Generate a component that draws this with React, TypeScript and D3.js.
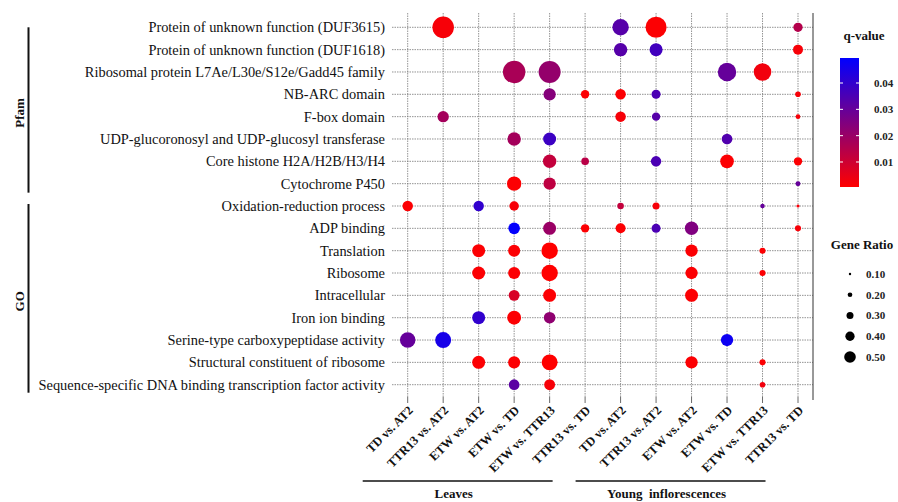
import * as React from "react";
import * as d3 from "d3";

const terms = [
  "Protein of unknown function (DUF3615)",
  "Protein of unknown function (DUF1618)",
  "Ribosomal protein L7Ae/L30e/S12e/Gadd45 family",
  "NB-ARC domain",
  "F-box domain",
  "UDP-glucoronosyl and UDP-glucosyl transferase",
  "Core histone H2A/H2B/H3/H4",
  "Cytochrome P450",
  "Oxidation-reduction process",
  "ADP binding",
  "Translation",
  "Ribosome",
  "Intracellular",
  "Iron ion binding",
  "Serine-type carboxypeptidase activity",
  "Structural constituent of ribosome",
  "Sequence-specific DNA binding transcription factor activity",
];

const comparisons = [
  "TD vs. AT2", "TTR13 vs. AT2", "ETW vs. AT2", "ETW vs. TD", "ETW vs. TTR13", "TTR13 vs. TD",
  "TD vs. AT2", "TTR13 vs. AT2", "ETW vs. AT2", "ETW vs. TD", "ETW vs. TTR13", "TTR13 vs. TD",
];

// [label, first term index, last term index]
const termGroups: [string, number, number][] = [
  ["Pfam", 0, 7],
  ["GO", 8, 16],
];

// [label, first column, last column]
const tissueGroups: [string, number, number][] = [
  ["Leaves", 0, 4],
  ["Young  inflorescences", 6, 10],
];

const _ = null;

// gene ratio per term (row) and comparison (column)
const geneRatio: (number | null)[][] = [
  [_, 0.93, _, _, _, _, 0.71, 0.91, _, _, _, 0.40],
  [_, _, _, _, _, _, 0.58, 0.56, _, _, _, 0.43],
  [_, _, _, 0.97, 0.95, _, _, _, _, 0.80, 0.76, _],
  [_, _, _, _, 0.53, 0.36, 0.45, 0.39, _, _, _, 0.24],
  [_, 0.49, _, _, _, _, 0.45, 0.36, _, _, _, 0.20],
  [_, _, _, 0.58, 0.56, _, _, _, _, 0.46, _, _],
  [_, _, _, _, 0.58, 0.33, _, 0.45, _, 0.59, _, 0.36],
  [_, _, _, 0.62, 0.53, _, _, _, _, _, _, 0.21],
  [0.45, _, 0.45, 0.41, _, _, 0.28, 0.30, _, _, 0.19, 0.13],
  [_, _, _, 0.50, 0.56, 0.36, 0.43, 0.39, 0.58, _, _, 0.26],
  [_, _, 0.56, 0.52, 0.71, _, _, _, 0.53, _, 0.26, _],
  [_, _, 0.56, 0.52, 0.71, _, _, _, 0.53, _, 0.26, _],
  [_, _, _, 0.47, 0.56, _, _, _, 0.56, _, _, _],
  [_, _, 0.56, 0.60, 0.50, _, _, _, _, _, _, _],
  [0.67, 0.69, _, _, _, _, _, _, _, 0.53, _, _],
  [_, _, 0.56, 0.52, 0.69, _, _, _, 0.53, _, 0.26, _],
  [_, _, _, 0.46, 0.47, _, _, _, _, _, 0.24, _],
];

// q-value per term (row) and comparison (column)
const qValue: (number | null)[][] = [
  [_, 0.002, _, _, _, _, 0.033, 0.001, _, _, _, 0.015],
  [_, _, _, _, _, _, 0.033, 0.037, _, _, _, 0.002],
  [_, _, _, 0.017, 0.021, _, _, _, _, 0.030, 0.003, _],
  [_, _, _, _, 0.024, 0.001, 0.001, 0.035, _, _, _, 0.002],
  [_, 0.018, _, _, _, _, 0.002, 0.033, _, _, _, 0.002],
  [_, _, _, 0.018, 0.038, _, _, _, _, 0.034, _, _],
  [_, _, _, _, 0.012, 0.014, _, 0.035, _, 0.001, _, 0.001],
  [_, _, _, 0.001, 0.013, _, _, _, _, _, _, 0.030],
  [0.001, _, 0.040, 0.002, _, _, 0.012, 0.002, _, _, 0.030, 0.002],
  [_, _, _, 0.049, 0.020, 0.001, 0.001, 0.035, 0.025, _, _, 0.002],
  [_, _, 0.001, 0.001, 0.0005, _, _, _, 0.001, _, 0.001, _],
  [_, _, 0.001, 0.001, 0.0005, _, _, _, 0.001, _, 0.001, _],
  [_, _, _, 0.008, 0.001, _, _, _, 0.001, _, _, _],
  [_, _, 0.040, 0.001, 0.022, _, _, _, _, _, _, _],
  [0.030, 0.045, _, _, _, _, _, _, _, 0.047, _, _],
  [_, _, 0.001, 0.001, 0.0005, _, _, _, 0.001, _, 0.001, _],
  [_, _, _, 0.032, 0.002, _, _, _, _, _, 0.003, _],
];

const qTicks = [0.01, 0.02, 0.03, 0.04];
const ratioTicks = [0.1, 0.2, 0.3, 0.4, 0.5];

const FONT = "'Times New Roman', 'Liberation Serif', serif";

function drawChart(svgRef) {
  const width = 898;
  const height = 502;
  const panel = { left: 392, right: 813, top: 13, bottom: 397 };

  const svg = d3.select(svgRef.current).attr("width", width).attr("height", height);
  svg.selectAll("*").remove();

  const x = d3.scalePoint<number>().domain(d3.range(comparisons.length)).range([407.7, 798]);
  const y = d3.scalePoint<number>().domain(d3.range(terms.length)).range([27.3, 384.7]);
  const color = d3.scaleLinear<string>().domain([0.0005, 0.0495]).range(["#ff0000", "#0000ff"]).clamp(true);
  const size = d3.scaleLinear().domain([0.1, 0.5]).range([1.2, 5.8]);

  // grid
  const grid = svg.append("g").attr("stroke", "#777").attr("stroke-width", 0.8).attr("stroke-dasharray", "1.5,1");
  grid.selectAll(".h").data(terms).enter().append("line")
    .attr("x1", panel.left).attr("x2", panel.right)
    .attr("y1", (d, i) => y(i)).attr("y2", (d, i) => y(i));
  grid.selectAll(".v").data(comparisons).enter().append("line")
    .attr("x1", (d, i) => x(i)).attr("x2", (d, i) => x(i))
    .attr("y1", panel.top).attr("y2", panel.bottom);

  // x ticks + right frame
  svg.append("g").attr("stroke", "#444").attr("stroke-width", 0.8)
    .selectAll("line").data(comparisons).enter().append("line")
    .attr("x1", (d, i) => x(i)).attr("x2", (d, i) => x(i))
    .attr("y1", panel.bottom).attr("y2", panel.bottom + 6);
  svg.append("line").attr("x1", panel.right).attr("x2", panel.right)
    .attr("y1", panel.top).attr("y2", panel.bottom + 3).attr("stroke", "#333").attr("stroke-width", 1);

  // y labels
  svg.append("g").selectAll("text").data(terms).enter().append("text")
    .attr("x", 385).attr("y", (d, i) => y(i)).attr("dy", "0.35em")
    .attr("text-anchor", "end").attr("font-family", FONT).attr("font-size", 14.4).attr("fill", "#111")
    .text(d => d);

  // x labels
  svg.append("g").selectAll("text").data(comparisons).enter().append("text")
    .attr("transform", (d, i) => `translate(${x(i) + 3},${panel.bottom + 11}) rotate(-45)`)
    .attr("dy", "0.35em")
    .attr("text-anchor", "end").attr("font-family", FONT).attr("font-size", 12.5).attr("font-weight", "bold").attr("fill", "#111")
    .text(d => d);

  // dots
  const cells = [];
  geneRatio.forEach((row, r) => row.forEach((g, c) => {
    if (g != null) cells.push({ r, c, g, q: qValue[r][c] });
  }));
  svg.append("g").selectAll("circle").data(cells).enter().append("circle")
    .attr("cx", d => x(d.c)).attr("cy", d => y(d.r))
    .attr("r", d => size(d.g)).attr("fill", d => color(d.q));

  // term groups
  termGroups.forEach(([label, a, b]) => {
    const y0 = y(a) - (a === 0 ? 0 : 2);
    const y1 = y(b) + (a === 0 ? 9 : 8);
    svg.append("line").attr("x1", 28.5).attr("x2", 28.5).attr("y1", y0).attr("y2", y1)
      .attr("stroke", "#111").attr("stroke-width", 2);
    svg.append("text").attr("transform", `translate(19,${(y0 + y1) / 2 + 3}) rotate(-90)`)
      .attr("text-anchor", "middle").attr("dy", "0.35em")
      .attr("font-family", FONT).attr("font-size", 13).attr("font-weight", "bold").attr("fill", "#111")
      .text(label);
  });

  // tissue groups
  tissueGroups.forEach(([label, a, b]) => {
    const x0 = x(a) - 45;
    const x1 = x(b) + 3;
    svg.append("line").attr("x1", x0).attr("x2", x1).attr("y1", 481).attr("y2", 481)
      .attr("stroke", "#111").attr("stroke-width", 1.5);
    svg.append("text").attr("x", (x0 + x1) / 2 - 4).attr("y", 498)
      .attr("text-anchor", "middle").attr("font-family", FONT).attr("font-size", 13).attr("font-weight", "bold")
      .attr("fill", "#111").style("white-space", "pre")
      .text(label);
  });

  // q-value legend
  const bar = { x: 840, w: 19, top: 58, bottom: 187 };
  const qy = d3.scaleLinear().domain(color.domain()).range([bar.bottom, bar.top]);
  const defs = svg.append("defs");
  const grad = defs.append("linearGradient").attr("id", "qgrad").attr("x1", 0).attr("x2", 0).attr("y1", 1).attr("y2", 0);
  grad.append("stop").attr("offset", "0%").attr("stop-color", color(color.domain()[0]));
  grad.append("stop").attr("offset", "100%").attr("stop-color", color(color.domain()[1]));
  svg.append("text").attr("x", 864).attr("y", 35).attr("dy", "0.35em").attr("text-anchor", "middle")
    .attr("font-family", FONT).attr("font-size", 13).attr("font-weight", "bold").attr("fill", "#111").text("q-value");
  svg.append("rect").attr("x", bar.x).attr("y", bar.top).attr("width", bar.w).attr("height", bar.bottom - bar.top)
    .attr("fill", "url(#qgrad)");
  const qt = svg.append("g");
  qTicks.forEach(t => {
    qt.append("line").attr("x1", bar.x).attr("x2", bar.x + 3).attr("y1", qy(t)).attr("y2", qy(t)).attr("stroke", "#fff");
    qt.append("line").attr("x1", bar.x + bar.w - 3).attr("x2", bar.x + bar.w).attr("y1", qy(t)).attr("y2", qy(t)).attr("stroke", "#fff");
    qt.append("text").attr("x", 874).attr("y", qy(t)).attr("dy", "0.35em")
      .attr("font-family", FONT).attr("font-size", 11).attr("font-weight", "bold").attr("fill", "#222")
      .text(d3.format(".2f")(t));
  });

  // gene ratio legend
  const ly = d3.scaleLinear().domain([0.1, 0.5]).range([274, 357]);
  svg.append("text").attr("x", 862).attr("y", 244).attr("dy", "0.35em").attr("text-anchor", "middle")
    .attr("font-family", FONT).attr("font-size", 13).attr("font-weight", "bold").attr("fill", "#111").text("Gene Ratio");
  const lg = svg.append("g").selectAll("g").data(ratioTicks).enter().append("g");
  lg.append("circle").attr("cx", 850).attr("cy", d => ly(d)).attr("r", d => size(d)).attr("fill", "#000");
  lg.append("text").attr("x", 866).attr("y", d => ly(d)).attr("dy", "0.35em")
    .attr("font-family", FONT).attr("font-size", 11).attr("font-weight", "bold").attr("fill", "#222")
    .text(d => d3.format(".2f")(d));
}

const App = () => {
  const svgRef = React.useRef(null);

  React.useEffect(() => {
    drawChart(svgRef);
  }, [svgRef]);

  return (
    <div style={{ position: "absolute", left: 0, top: 0, background: "#fff" }}>
      <svg ref={svgRef} style={{ display: "block" }} />
    </div>
  );
};

export default App;
